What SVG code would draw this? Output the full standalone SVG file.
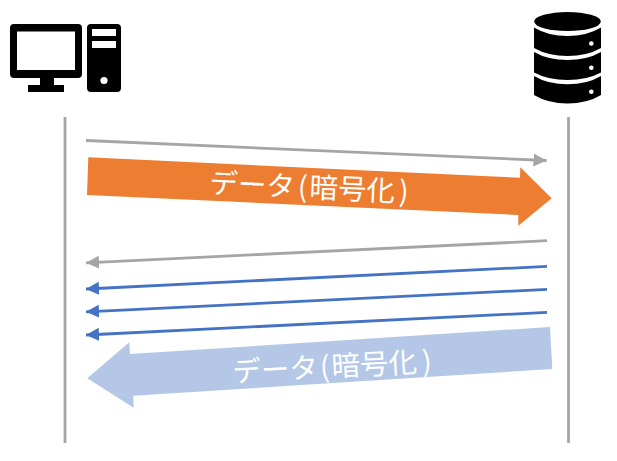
<svg xmlns="http://www.w3.org/2000/svg" width="617" height="461" viewBox="0 0 617 461">
<style>
.life{stroke:#a5a5a5;stroke-width:2.8;fill:none}
.gray{stroke:#a5a5a5;stroke-width:2.8;fill:none;marker-end:url(#hg)}
.blue{stroke:#4472c4;stroke-width:2.8;fill:none;marker-end:url(#hb)}
.lbl{font-family:"Noto Sans CJK JP","Noto Sans",sans-serif;font-weight:400;font-size:28.5px;fill:#fff}
</style>
<defs>
<marker id="hg" markerUnits="userSpaceOnUse" markerWidth="14" markerHeight="14" refX="13" refY="6.500" orient="auto"><path d="M0 0L13 6.500L0 13Z" fill="#a5a5a5"/></marker>
<marker id="hb" markerUnits="userSpaceOnUse" markerWidth="14" markerHeight="14" refX="13" refY="6.500" orient="auto"><path d="M0 0L13 6.500L0 13Z" fill="#4472c4"/></marker>
</defs>
<rect width="617" height="461" fill="#fff"/>
<g id="pc">
<path fill-rule="evenodd" d="M14 24H78Q82 24 82 28V74Q82 78 78 78H54V85H64V92H28V85H40V78H14Q10 78 10 74V28Q10 24 14 24ZM17 31.500V70H75V31.500Z"/>
<path fill-rule="evenodd" d="M91 24H117Q121 24 121 28V88Q121 92 117 92H91Q87 92 87 88V28Q87 24 91 24ZM92 29V36H116V29ZM92 41V48H116V41Z"/>
<circle cx="104" cy="80.500" r="3.600" fill="#fff"/>
</g>
<g id="database">
<ellipse cx="567.500" cy="21.500" rx="33.300" ry="9.500"/>
<path d="M534 27.500Q548 36 567.500 36Q587 36 601 27.500V48Q587 56 567.500 56Q548 56 534 48Z"/>
<path d="M534 52Q548 60 567.500 60Q587 60 601 52V72.500Q587 80 567.500 80Q548 80 534 72.500Z"/>
<path d="M534 76Q548 84.300 567.500 84.300Q587 84.300 601 76V95Q587 103.500 567.500 103.500Q548 103.500 534 95Z"/>
<circle cx="591.300" cy="43.500" r="2.300" fill="#fff"/>
<circle cx="591.300" cy="67.700" r="2.300" fill="#fff"/>
<circle cx="591.300" cy="91.700" r="2.300" fill="#fff"/>
</g>
<g id="connectors">
<path class="life" d="M65 117V443"/>
<path class="life" d="M568.500 117V443"/>
<path class="gray" d="M86 140.500L546.500 160.500"/>
<path class="gray" d="M547 240.700L86 262.800"/>
<path class="blue" d="M547 266.400L86 289"/>
<path class="blue" d="M547 289.400L86 311.800"/>
<path class="blue" d="M547 312.400L86 335"/>
</g>
<g id="data-out">
<path fill="#ed7d31" d="M88.300 157.300L520 177.700L520.300 167.300L551.700 198.300L518.300 225.700L518.300 215L87 195Z"/>
<text class="lbl" transform="translate(209 193) rotate(2.600)">データ<tspan dx="3">(</tspan><tspan dx="2">暗号化</tspan><tspan dx="4">)</tspan></text>
</g>
<g id="data-back">
<path fill="#b4c7e7" d="M87.300 378.300L129.300 342.300L130 354L550 327L552.300 369L133.300 395.700L133.600 407.700Z"/>
<text class="lbl" transform="translate(233 382) rotate(-3)">データ<tspan dx="2">(</tspan><tspan dx="2">暗号化</tspan><tspan dx="5">)</tspan></text>
</g>
</svg>
